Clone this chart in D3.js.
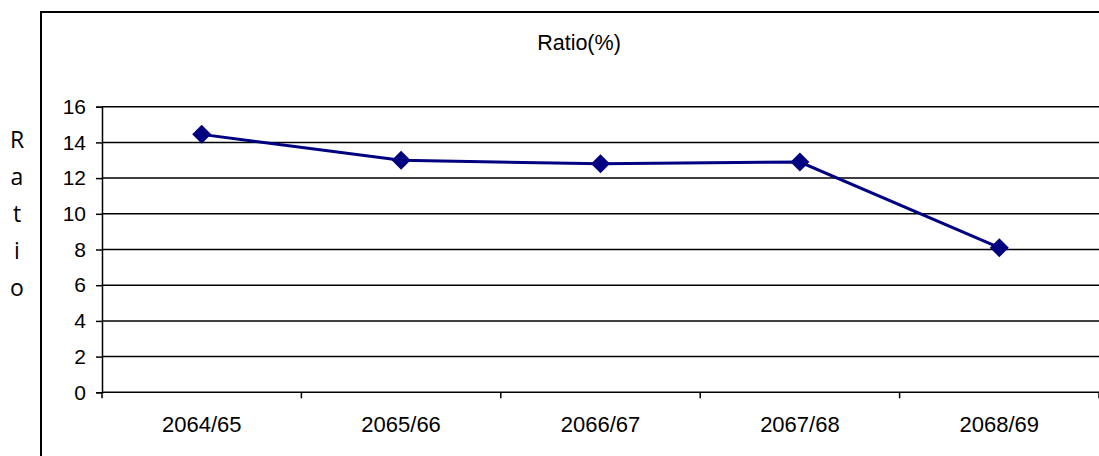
<!DOCTYPE html>
<html>
<head>
<meta charset="utf-8">
<script src="https://cdn.jsdelivr.net/npm/d3@7"></script>
<style>
  html, body { margin: 0; padding: 0; background: #fff; }
  svg { display: block; }
</style>
</head>
<body>
<svg id="chart" width="1099" height="456"></svg>
<script>
// Fiscal years and the ratio (%) for each
const years = ["2064/65", "2065/66", "2066/67", "2067/68", "2068/69"];
const ratios = [14.45, 13.0, 12.8, 12.9, 8.1];
const yTicks = [0, 2, 4, 6, 8, 10, 12, 14, 16];
const titleText = "Ratio(%)";
const axisTitle = ["R", "a", "t", "i", "o"];

const svg = d3.select("#chart");
const W = 1099, H = 456;
const plot = { left: 102, right: 1099, top: 106.7, bottom: 392.3 };

// Outer chart frame (runs off the right and bottom edges)
svg.append("rect")
  .attr("x", 41).attr("y", 12)
  .attr("width", W + 20).attr("height", H + 20)
  .attr("fill", "none").attr("stroke", "#000").attr("stroke-width", 2);

const x = d3.scaleBand().domain(years).range([plot.left, plot.right]);
const y = d3.scaleLinear().domain([0, 16]).range([plot.bottom, plot.top]);

// Horizontal gridlines
svg.append("g").selectAll("line").data(yTicks.filter(d => d > 0)).join("line")
  .attr("x1", plot.left).attr("x2", plot.right)
  .attr("y1", d => y(d)).attr("y2", d => y(d))
  .attr("stroke", "#000").attr("stroke-width", 1.5);

const font = "'Liberation Sans', Arial, sans-serif";

// Y axis
const yAxis = svg.append("g")
  .attr("transform", `translate(${plot.left},0)`)
  .call(d3.axisLeft(y).tickValues(yTicks).tickSize(6).tickPadding(10).tickFormat(d3.format("d")));
yAxis.select(".domain").attr("stroke", "#000").attr("stroke-width", 1.5);
yAxis.selectAll(".tick line").attr("stroke", "#000").attr("stroke-width", 1.5);
yAxis.selectAll("text").attr("font-family", font).attr("font-size", 21).attr("fill", "#000");

// X axis with ticks between categories
const xAxis = svg.append("g")
  .attr("transform", `translate(0,${plot.bottom})`)
  .call(d3.axisBottom(x).tickSize(0).tickPadding(24));
xAxis.select(".domain").remove();
xAxis.selectAll("text").attr("font-family", font).attr("font-size", 22).attr("fill", "#000");
svg.append("line")
  .attr("x1", plot.left).attr("x2", plot.right)
  .attr("y1", plot.bottom).attr("y2", plot.bottom)
  .attr("stroke", "#000").attr("stroke-width", 1.5);
const bounds = years.map(d => x(d)).concat([x(years[years.length - 1]) + x.bandwidth()]);
svg.append("g").selectAll("line").data(bounds).join("line")
  .attr("x1", d => d).attr("x2", d => d)
  .attr("y1", plot.bottom).attr("y2", plot.bottom + 6)
  .attr("stroke", "#000").attr("stroke-width", 1.5);

// Series line and diamond markers
const cx = d => x(d) + x.bandwidth() / 2;
const pts = years.map((d, i) => [cx(d), y(ratios[i])]);
svg.append("path")
  .attr("d", d3.line()(pts))
  .attr("fill", "none").attr("stroke", "#000080").attr("stroke-width", 3);
svg.append("g").selectAll("path").data(pts).join("path")
  .attr("transform", d => `translate(${d[0]},${d[1]})`)
  .attr("d", "M0,-9.5L9.5,0L0,9.5L-9.5,0Z")
  .attr("fill", "#000080");

// Chart title
svg.append("text")
  .attr("x", 579).attr("y", 50)
  .attr("text-anchor", "middle")
  .attr("font-family", font).attr("font-size", 21.5)
  .text(titleText);

// Stacked y-axis title
svg.append("g").selectAll("text").data(axisTitle).join("text")
  .attr("x", 17).attr("y", (d, i) => 148 + i * 37)
  .attr("text-anchor", "middle")
  .attr("font-family", "'Open Sans', 'Noto Sans', sans-serif").attr("font-size", 23)
  .text(d => d);
</script>
</body>
</html>
